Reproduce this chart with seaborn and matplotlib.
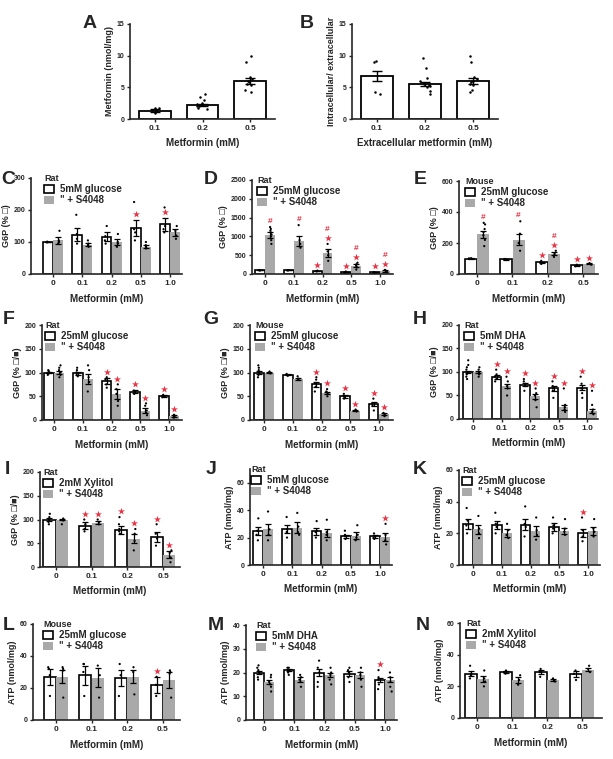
import numpy as np
import pandas as pd
import matplotlib
matplotlib.use("Agg")
import matplotlib.pyplot as plt
from matplotlib.patches import Patch
import seaborn as sns

W, H = 613, 759
GRAY = "#a9a9a9"
RED = "#ec3344"

doses5 = ["0", "0.1", "0.2", "0.5", "1.0"]
doses4 = ["0", "0.1", "0.2", "0.5"]
uptake_doses = ["0.1", "0.2", "0.5"]

# A - intracellular metformin
a_mean = [1.3, 2.2, 6.0]
a_sem = [0.25, 0.2, 0.45]
a_pts = [[1.0, 1.2, 1.5, 1.7, 1.8],
         [1.6, 1.8, 2.0, 2.1, 2.2, 2.3, 2.5, 3.0, 3.5, 3.9],
         [4.2, 4.6, 5.3, 5.6, 5.8, 6.0, 6.3, 6.6, 9.0, 10.0]]
# B - intracellular / extracellular ratio
b_mean = [6.8, 5.5, 6.0]
b_sem = [0.8, 0.35, 0.4]
b_pts = [[4.0, 4.2, 9.0, 9.2],
         [4.0, 4.5, 5.0, 5.2, 5.4, 5.6, 6.0, 6.5, 8.0, 9.7],
         [4.2, 4.6, 5.3, 5.6, 5.8, 6.0, 6.3, 6.6, 9.0, 10.0]]

# C - rat, 5mM glucose, G6P
c_ctrl = [100, 123, 117, 145, 155]
c_ctrl_sem = [1, 20, 13, 25, 20]
c_s4048 = [105, 92, 100, 85, 130]
c_s4048_sem = [12, 5, 10, 5, 12]
c_ctrl_pts = [[99, 100, 100, 101], [95, 110, 125, 185], [95, 105, 118, 150],
              [105, 130, 140, 225], [130, 140, 150, 208]]
c_s4048_pts = [[95, 100, 105, 135], [85, 90, 95, 105], [85, 95, 100, 125],
               [80, 85, 90, 100], [110, 120, 135, 150]]
c_ctrl_sig = ["", "", "", "*", "*"]
c_s4048_sig = ["", "", "", "", ""]

# D - rat, 25mM glucose, G6P
d_ctrl = [100, 100, 80, 55, 45]
d_ctrl_sem = [5, 5, 5, 5, 4]
d_s4048 = [1030, 870, 550, 220, 80]
d_s4048_sem = [80, 130, 110, 40, 15]
d_ctrl_pts = [[95, 100, 105], [95, 100, 105], [70, 80, 90], [45, 55, 65], [40, 45, 50]]
d_s4048_pts = [[800, 900, 1000, 1050, 1100, 1150, 1200, 1250],
               [700, 800, 900, 1300], [350, 500, 600, 800], [120, 180, 220, 260, 300],
               [50, 70, 90, 110]]
d_ctrl_sig = ["", "", "*", "*", "*"]
d_s4048_sig = ["#", "#", "*#", "*#", "*#"]

# E - mouse, 25mM glucose, G6P
e_ctrl = [100, 95, 75, 55]
e_ctrl_sem = [2, 2, 5, 3]
e_s4048 = [255, 220, 130, 65]
e_s4048_sem = [20, 35, 10, 3]
e_ctrl_pts = [[98, 100, 102], [93, 95, 97], [65, 75, 85], [50, 55, 60]]
e_s4048_pts = [[180, 220, 250, 270, 290, 320, 330], [150, 200, 260, 340],
               [110, 125, 135, 150], [60, 65, 70]]
e_ctrl_sig = ["", "", "*", "*"]
e_s4048_sig = ["#", "#", "*#", "*"]

# F - rat, 25mM glucose, G6P
f_ctrl = [100, 98, 82, 60, 51]
f_ctrl_sem = [2, 3, 6, 3, 2]
f_s4048 = [100, 86, 55, 20, 8]
f_s4048_sem = [4, 10, 10, 5, 2]
f_ctrl_pts = [[95, 98, 100, 103, 105], [92, 95, 100, 105, 110], [68, 75, 85, 90],
              [55, 58, 62], [48, 50, 53]]
f_s4048_pts = [[90, 95, 100, 105, 110, 115], [60, 80, 90, 105, 115], [30, 40, 55, 65, 75],
               [10, 15, 20, 30, 35], [5, 7, 9, 11]]
f_ctrl_sig = ["", "", "*", "*", "*"]
f_s4048_sig = ["", "", "*", "*", "*"]

# G - mouse, 25mM glucose, G6P
g_ctrl = [100, 95, 75, 50, 33]
g_ctrl_sem = [4, 1, 5, 3, 4]
g_s4048 = [100, 87, 57, 20, 12]
g_s4048_sem = [1, 2, 3, 2, 2]
g_ctrl_pts = [[90, 95, 100, 105, 110, 115], [93, 95, 97], [60, 70, 78, 85, 90],
              [45, 48, 50, 55], [20, 30, 35, 45]]
g_s4048_pts = [[98, 100, 102], [85, 87, 92], [50, 55, 58, 60, 65], [18, 20, 22], [8, 12, 15]]
g_ctrl_sig = ["", "", "*", "*", "*"]
g_s4048_sig = ["", "", "*", "*", "*"]

# H - rat, 5mM DHA, G6P
h_ctrl = [100, 90, 73, 65, 67]
h_ctrl_sem = [3, 4, 3, 5, 6]
h_s4048 = [100, 70, 48, 25, 17]
h_s4048_sem = [2, 5, 5, 5, 5]
h_ctrl_pts = [[85, 90, 95, 100, 105, 110, 115, 125], [80, 85, 90, 95, 105],
              [60, 70, 75, 80, 85], [45, 60, 65, 70, 80], [45, 55, 65, 75, 90]]
h_s4048_pts = [[90, 95, 100, 105, 110], [50, 65, 70, 80, 90], [25, 40, 50, 55, 65],
               [15, 20, 25, 30, 65], [10, 15, 20, 30, 60]]
h_ctrl_sig = ["", "*", "*", "*", "*"]
h_s4048_sig = ["", "*", "*", "*", "*"]

# I - rat, 2mM xylitol, G6P
i_ctrl = [100, 87, 78, 63]
i_ctrl_sem = [3, 8, 8, 10]
i_s4048 = [100, 93, 60, 26]
i_s4048_sem = [2, 3, 10, 7]
i_ctrl_pts = [[90, 95, 100, 105, 112], [75, 80, 90, 100], [70, 75, 80, 90, 105], [45, 60, 70, 90]]
i_s4048_pts = [[90, 98, 100, 102], [90, 95, 100], [35, 55, 70, 80], [10, 20, 30, 35]]
i_ctrl_sig = ["", "*", "*", "*"]
i_s4048_sig = ["", "*", "*", "*"]

# J - rat, 5mM glucose, ATP
j_ctrl = [25, 26, 24.5, 21, 21]
j_ctrl_sem = [3, 3, 2.5, 1, 1]
j_s4048 = [26, 27, 23.5, 21.5, 20.5]
j_s4048_sem = [4, 4, 3, 2.5, 3]
j_ctrl_pts = [[18, 22, 25, 34], [20, 24, 26, 35], [20, 24, 25, 32], [19, 21, 22, 25], [19, 20, 21, 23]]
j_s4048_pts = [[18, 22, 26, 39], [22, 24, 28, 38], [18, 22, 24, 33], [18, 20, 22, 29], [15, 18, 22, 30]]
j_ctrl_sig = ["", "", "", "", ""]
j_s4048_sig = ["", "", "", "", "*"]

# K - rat, 25mM glucose, ATP
k_ctrl = [26, 25.5, 25.5, 24, 20]
k_ctrl_sem = [3, 2.5, 3.5, 2.5, 2.5]
k_s4048 = [22.5, 20.5, 21.5, 21.5, 21.5]
k_s4048_sem = [3, 2.5, 3, 2, 2.5]
k_ctrl_pts = [[20, 25, 28, 36], [20, 24, 26, 33], [18, 24, 26, 37], [20, 23, 25, 30], [15, 18, 22, 30]]
k_s4048_pts = [[17, 20, 23, 31], [17, 19, 22, 26], [16, 19, 22, 30], [19, 21, 23, 29], [18, 21, 23, 29]]
k_ctrl_sig = ["", "", "", "", "*"]
k_s4048_sig = ["", "", "", "", ""]

# L - mouse, 25mM glucose, ATP
l_ctrl = [27, 28, 26, 22]
l_ctrl_err = [5, 6, 5, 5]
l_s4048 = [27, 26.5, 27, 25]
l_s4048_err = [4, 6, 4, 5]
l_ctrl_pts = [[15, 28, 32, 33], [15, 30, 35, 35], [15, 28, 35], [15, 22, 27]]
l_s4048_pts = [[14, 31, 32, 33], [14, 28, 34], [16, 30, 33], [14, 29, 30, 31]]
l_ctrl_sig = ["", "", "", "*"]
l_s4048_sig = ["", "", "", ""]

# M - rat, 5mM DHA, ATP
m_ctrl = [20, 21, 20, 19.5, 17]
m_ctrl_sem = [0.8, 0.5, 1.5, 1, 0.8]
m_s4048 = [16, 17, 19, 19, 17]
m_s4048_sem = [1, 1, 1, 1.2, 1]
m_ctrl_pts = [[17, 18, 20, 21, 22, 23], [19, 20, 21, 22, 22], [14, 16, 20, 22, 25],
              [16, 18, 20, 21, 22], [13, 15, 17, 18, 21]]
m_s4048_pts = [[12, 14, 15, 16, 18, 19], [14, 16, 17, 18, 19], [15, 17, 19, 20, 22],
               [14, 17, 19, 20, 22], [12, 14, 16, 18, 20]]
m_ctrl_sig = ["", "", "", "", "*"]
m_s4048_sig = ["", "", "", "", ""]

# N - rat, 2mM xylitol, ATP
n_ctrl = [28, 29, 29, 28]
n_ctrl_sem = [1.5, 0.5, 1.5, 2]
n_s4048 = [24.5, 24, 24, 30.5]
n_s4048_sem = [2, 2, 0.5, 1]
n_ctrl_pts = [[25, 27, 28, 33], [28, 29, 30], [26, 29, 31], [24, 28, 30]]
n_s4048_pts = [[20, 23, 25, 30], [21, 24, 27], [23, 24, 25], [29, 31, 33]]
n_ctrl_sig = ["", "", "", ""]
n_s4048_sig = ["", "", "", ""]

sns.set_style("ticks")
plt.rcParams["font.family"] = ["Liberation Sans", "DejaVu Sans"]
plt.rcParams["font.weight"] = "bold"
plt.rcParams["axes.labelweight"] = "bold"
np.random.seed(3)

fig = plt.figure(figsize=(W / 100, H / 100), dpi=100)


def add_ax(box):
    l, t, r, b = box
    return fig.add_axes([l / W, 1 - b / H, (r - l) / W, (b - t) / H])


def finish(ax, xlim, ylim, yticks, ylabel, xlabel="Metformin (mM)"):
    ax.set_xlim(*xlim)
    ax.set_ylim(*ylim)
    ax.set_yticks(yticks)
    sns.despine(ax=ax)
    for s in ("left", "bottom"):
        ax.spines[s].set_linewidth(1.2)
    ax.tick_params(width=1.0, length=2.5, pad=1.5)
    ax.tick_params(axis="x", labelsize=6)
    ax.tick_params(axis="y", labelsize=5)
    ax.set_xlabel(xlabel, fontsize=7, labelpad=5)
    ax.set_ylabel(ylabel, fontsize=6.5, labelpad=2)


def long_points(doses, groups):
    rows = []
    for g, pts in groups:
        for d, vals in zip(doses, pts):
            for v in vals:
                rows.append((d, g, v))
    return pd.DataFrame(rows, columns=["dose", "group", "value"])


def single_panel(box, xlim, doses, mean, sem, pts, ylabel, xlabel):
    ax = add_ax(box)
    df = pd.DataFrame({"dose": doses, "value": mean})
    sns.barplot(data=df, x="dose", y="value", order=doses, color="white", saturation=1,
                width=0.67, errorbar=None, ax=ax)
    cont = ax.containers[0]
    for p in cont:
        p.set_edgecolor("black")
        p.set_linewidth(1.3)
    pdf = long_points(doses, [("a", pts)])
    sns.stripplot(data=pdf, x="dose", y="value", order=doses, color="black", size=1.8,
                  jitter=0.12, ax=ax, zorder=3)
    xs = [p.get_x() + p.get_width() / 2 for p in cont]
    ax.errorbar(xs, mean, yerr=sem, fmt="none", ecolor="black", elinewidth=1.0,
                capsize=3.5, capthick=1.0, zorder=4)
    finish(ax, xlim, (0, 15), [0, 5, 10, 15], ylabel, xlabel)
    return ax


def pair_panel(box, xlim, doses, ctrl, ctrl_err, s48, s48_err, ctrl_pts, s48_pts,
               ctrl_sig, s48_sig, ylim, yticks, ylabel, species, label, leg_dx,
               sig_mode="pts"):
    ax = add_ax(box)
    n = len(doses)
    bars = pd.DataFrame({"dose": doses + doses,
                         "group": ["ctrl"] * n + ["s4048"] * n,
                         "value": ctrl + s48})
    sns.barplot(data=bars, x="dose", y="value", hue="group", order=doses,
                hue_order=["ctrl", "s4048"], palette={"ctrl": "white", "s4048": GRAY},
                saturation=1, width=0.7, gap=0.04, errorbar=None, legend=False, ax=ax)
    conts = list(ax.containers)[:2]
    for p in conts[0]:
        p.set_edgecolor("black")
        p.set_linewidth(1.2)
    for p in conts[1]:
        p.set_edgecolor("none")
    pdf = long_points(doses, [("ctrl", ctrl_pts), ("s4048", s48_pts)])
    sns.stripplot(data=pdf, x="dose", y="value", hue="group", order=doses,
                  hue_order=["ctrl", "s4048"], palette={"ctrl": "black", "s4048": "black"},
                  dodge=True, jitter=0.07, size=1.6, legend=False, ax=ax, zorder=3)
    pad = 0.06 * ylim[1]
    for cont, means, errs, pts, sigs in zip(conts, (ctrl, s48), (ctrl_err, s48_err),
                                           (ctrl_pts, s48_pts), (ctrl_sig, s48_sig)):
        xs = [p.get_x() + p.get_width() / 2 for p in cont]
        ax.errorbar(xs, means, yerr=errs, fmt="none", ecolor="black", elinewidth=0.9,
                    capsize=2.2, capthick=0.9, zorder=4)
        for x, m, e, vals, sig in zip(xs, means, errs, pts, sigs):
            if not sig:
                continue
            top = m + e
            if sig_mode == "pts":
                top = max(top, max(vals))
            y = top + pad
            if "*" in sig:
                ax.scatter([x], [y], marker="*", s=28, color=RED, linewidths=0,
                           zorder=5, clip_on=False)
                y += pad * 1.5
            if "#" in sig:
                ax.text(x, y, "#", color=RED, fontsize=6, ha="center", va="center",
                        zorder=5)
    handles = [Patch(facecolor="white", edgecolor="black", linewidth=1.2, label=label),
               Patch(facecolor=GRAY, edgecolor="none", label='" + S4048')]
    ax.legend(handles=handles, title=species, loc="upper left",
              bbox_to_anchor=(leg_dx / (box[2] - box[0]), 1.04), frameon=False,
              fontsize=7, title_fontsize=6.5, handlelength=1.0, handleheight=0.9,
              handletextpad=0.6, labelspacing=0.1, borderpad=0, borderaxespad=0,
              alignment="left")
    finish(ax, xlim, ylim, yticks, ylabel)
    return ax


g6p1 = "G6P (% \u25a1)"
g6p2 = "G6P (% \u25a1/\u25a0)"
atp = "ATP (nmol/mg)"
g6p_ticks = [0, 50, 100, 150, 200]
atp_ticks = [0, 20, 40, 60]

single_panel((130, 24, 275, 119), (-0.52, 2.52), uptake_doses, a_mean, a_sem, a_pts,
             "Metformin (nmol/mg)", "Metformin (mM)")
single_panel((352, 24, 498, 119), (-0.52, 2.52), uptake_doses, b_mean, b_sem, b_pts,
             "Intracellular/ extracellular", "Extracellular metformin (mM)")

pair_panel((31, 178, 182, 274), (-0.76, 4.41), doses5, c_ctrl, c_ctrl_sem, c_s4048, c_s4048_sem,
           c_ctrl_pts, c_s4048_pts, c_ctrl_sig, c_s4048_sig, (0, 300), [0, 100, 200, 300],
           g6p1, "Rat", "5mM glucose", 13, sig_mode="err")
pair_panel((252, 180, 393, 274), (-0.45, 4.45), doses5, d_ctrl, d_ctrl_sem, d_s4048, d_s4048_sem,
           d_ctrl_pts, d_s4048_pts, d_ctrl_sig, d_s4048_sig, (0, 2500),
           [0, 500, 1000, 1500, 2000, 2500], g6p1, "Rat", "25mM glucose", 5)
pair_panel((459, 181, 598, 274), (-0.51, 3.42), doses4, e_ctrl, e_ctrl_sem, e_s4048, e_s4048_sem,
           e_ctrl_pts, e_s4048_pts, e_ctrl_sig, e_s4048_sig, (0, 600), [0, 200, 400, 600],
           g6p1, "Mouse", "25mM glucose", 6)

pair_panel((42, 325, 182, 420), (-0.42, 4.45), doses5, f_ctrl, f_ctrl_sem, f_s4048, f_s4048_sem,
           f_ctrl_pts, f_s4048_pts, f_ctrl_sig, f_s4048_sig, (0, 200), g6p_ticks,
           g6p2, "Rat", "25mM glucose", 3)
pair_panel((250, 325, 393, 420), (-0.5, 4.5), doses5, g_ctrl, g_ctrl_sem, g_s4048, g_s4048_sem,
           g_ctrl_pts, g_s4048_pts, g_ctrl_sig, g_s4048_sig, (0, 200), g6p_ticks,
           g6p2, "Mouse", "25mM glucose", 5)
pair_panel((459, 325, 598, 419), (-0.49, 4.38), doses5, h_ctrl, h_ctrl_sem, h_s4048, h_s4048_sem,
           h_ctrl_pts, h_s4048_pts, h_ctrl_sig, h_s4048_sig, (0, 200), g6p_ticks,
           g6p2, "Rat", "5mM DHA", 5)

pair_panel((40, 472, 180, 567), (-0.44, 3.47), doses4, i_ctrl, i_ctrl_sem, i_s4048, i_s4048_sem,
           i_ctrl_pts, i_s4048_pts, i_ctrl_sig, i_s4048_sig, (0, 200), g6p_ticks,
           g6p2, "Rat", "2mM Xylitol", 3)
pair_panel((250, 469, 392, 565), (-0.45, 4.41), doses5, j_ctrl, j_ctrl_sem, j_s4048, j_s4048_sem,
           j_ctrl_pts, j_s4048_pts, j_ctrl_sig, j_s4048_sig, (0, 70), atp_ticks,
           atp, "Rat", "5mM glucose", 1)
pair_panel((459, 470, 600, 565), (-0.49, 4.42), doses5, k_ctrl, k_ctrl_sem, k_s4048, k_s4048_sem,
           k_ctrl_pts, k_s4048_pts, k_ctrl_sig, k_s4048_sig, (0, 60), atp_ticks,
           atp, "Rat", "25mM glucose", 3)

pair_panel((33, 624, 180, 720), (-0.64, 3.48), doses4, l_ctrl, l_ctrl_err, l_s4048, l_s4048_err,
           l_ctrl_pts, l_s4048_pts, l_ctrl_sig, l_s4048_sig, (0, 60), atp_ticks,
           atp, "Mouse", "25mM glucose", 10)
pair_panel((246, 625, 397, 720), (-0.6, 4.4), doses5, m_ctrl, m_ctrl_sem, m_s4048, m_s4048_sem,
           m_ctrl_pts, m_s4048_pts, m_ctrl_sig, m_s4048_sig, (0, 40), [0, 10, 20, 30, 40],
           atp, "Rat", "5mM DHA", 10)
pair_panel((460, 623, 602, 718), (-0.49, 3.57), doses4, n_ctrl, n_ctrl_sem, n_s4048, n_s4048_sem,
           n_ctrl_pts, n_s4048_pts, n_ctrl_sig, n_s4048_sig, (0, 60), atp_ticks,
           atp, "Rat", "2mM Xylitol", 6)

letters = [("A", 90, 24), ("B", 307, 24),
           ("C", 8, 179), ("D", 211, 180), ("E", 420, 180),
           ("F", 9, 320), ("G", 211, 320), ("H", 420, 320),
           ("I", 7, 470), ("J", 211, 470), ("K", 420, 470),
           ("L", 9, 625), ("M", 216, 625), ("N", 423, 625)]
for txt, x, y in letters:
    fig.text(x / W, 1 - y / H, txt, fontsize=14, fontweight="bold", ha="center", va="center")

fig.savefig("out.png", dpi=100)
